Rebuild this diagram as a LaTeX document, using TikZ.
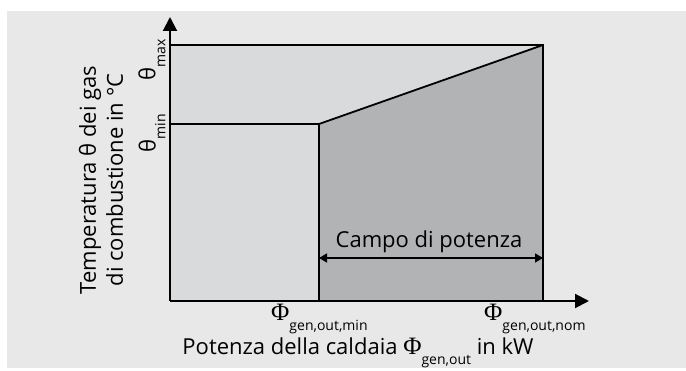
\documentclass[tikz,border=0pt]{standalone}
\usepackage{fontspec}
\setmainfont{Open Sans}
\newfontfamily\phifont{Liberation Serif}
\usetikzlibrary{arrows.meta}
\definecolor{bggray}{HTML}{E8E8E8}
\definecolor{lightarea}{HTML}{D9DADC}
\definecolor{darkarea}{HTML}{B2B3B5}
\newcommand{\lowsub}[1]{\raisebox{-0.45em}{\fontsize{14}{14}\selectfont #1}}
\newcommand{\Phisym}{{\phifont\fontsize{25}{25}\selectfont Φ}}

\begin{document}
\begin{tikzpicture}[x=1pt,y=-1pt,
    axis/.style={line width=2pt,-{Triangle[length=14pt,width=14pt]}},
    edge/.style={line width=1.8pt},
    powerrange/.style={line width=1.6pt,{Triangle[length=8pt,width=9pt]}-{Triangle[length=8pt,width=9pt]}},
    lbl/.style={inner sep=0pt,font=\fontsize{22}{27}\selectfont}]
  \useasboundingbox (0,0) rectangle (686,371);
  \fill[bggray] (7,11) rectangle (686,368);

  \coordinate (o) at (170,301);
  \coordinate (ytop) at (170,17);
  \coordinate (xend) at (589,301);
  \coordinate (tl) at (170,45);
  \coordinate (tr) at (543,45);
  \coordinate (br) at (543,301);
  \coordinate (pmin) at (319,301);
  \coordinate (kink) at (319,124);
  \coordinate (tmin) at (170,124);

  % areas
  \fill[lightarea] (tl) rectangle (br);
  \fill[darkarea] (pmin) -- (kink) -- (tr) -- (br) -- cycle;

  % outline
  \draw[edge] (tl) -- (tr) -- (br)
              (tmin) -- (kink)
              (pmin) -- (kink) -- (tr);

  % axes
  \draw[axis] (o) -- (ytop);
  \draw[axis] (o) -- (xend);

  % power range
  \coordinate (ra) at (319,258);
  \coordinate (rb) at (543,258);
  \draw[powerrange] (ra) -- (rb);
  \node[lbl,anchor=base] (campo) at (429,248) {Campo di potenza};

  % labels
  \node[lbl,rotate=90,align=center] (ylab) at (101,180)
    {Temperatura θ dei gas\\di combustione in °C};
  \node[lbl,rotate=90] (thmax) at (152,60) {θ\lowsub{max}};
  \node[lbl,rotate=90] (thmin) at (152,133) {θ\lowsub{min}};
  \node[lbl,anchor=base west] (phimin) at (271,321) {\Phisym\lowsub{gen,out,min}};
  \node[lbl,anchor=base west] (phinom) at (484,321) {\Phisym\lowsub{gen,out,nom}};
  \node[lbl,anchor=base] (xlab) at (358,355)
    {Potenza della caldaia \Phisym\lowsub{gen,out} in kW};
\end{tikzpicture}
\end{document}
